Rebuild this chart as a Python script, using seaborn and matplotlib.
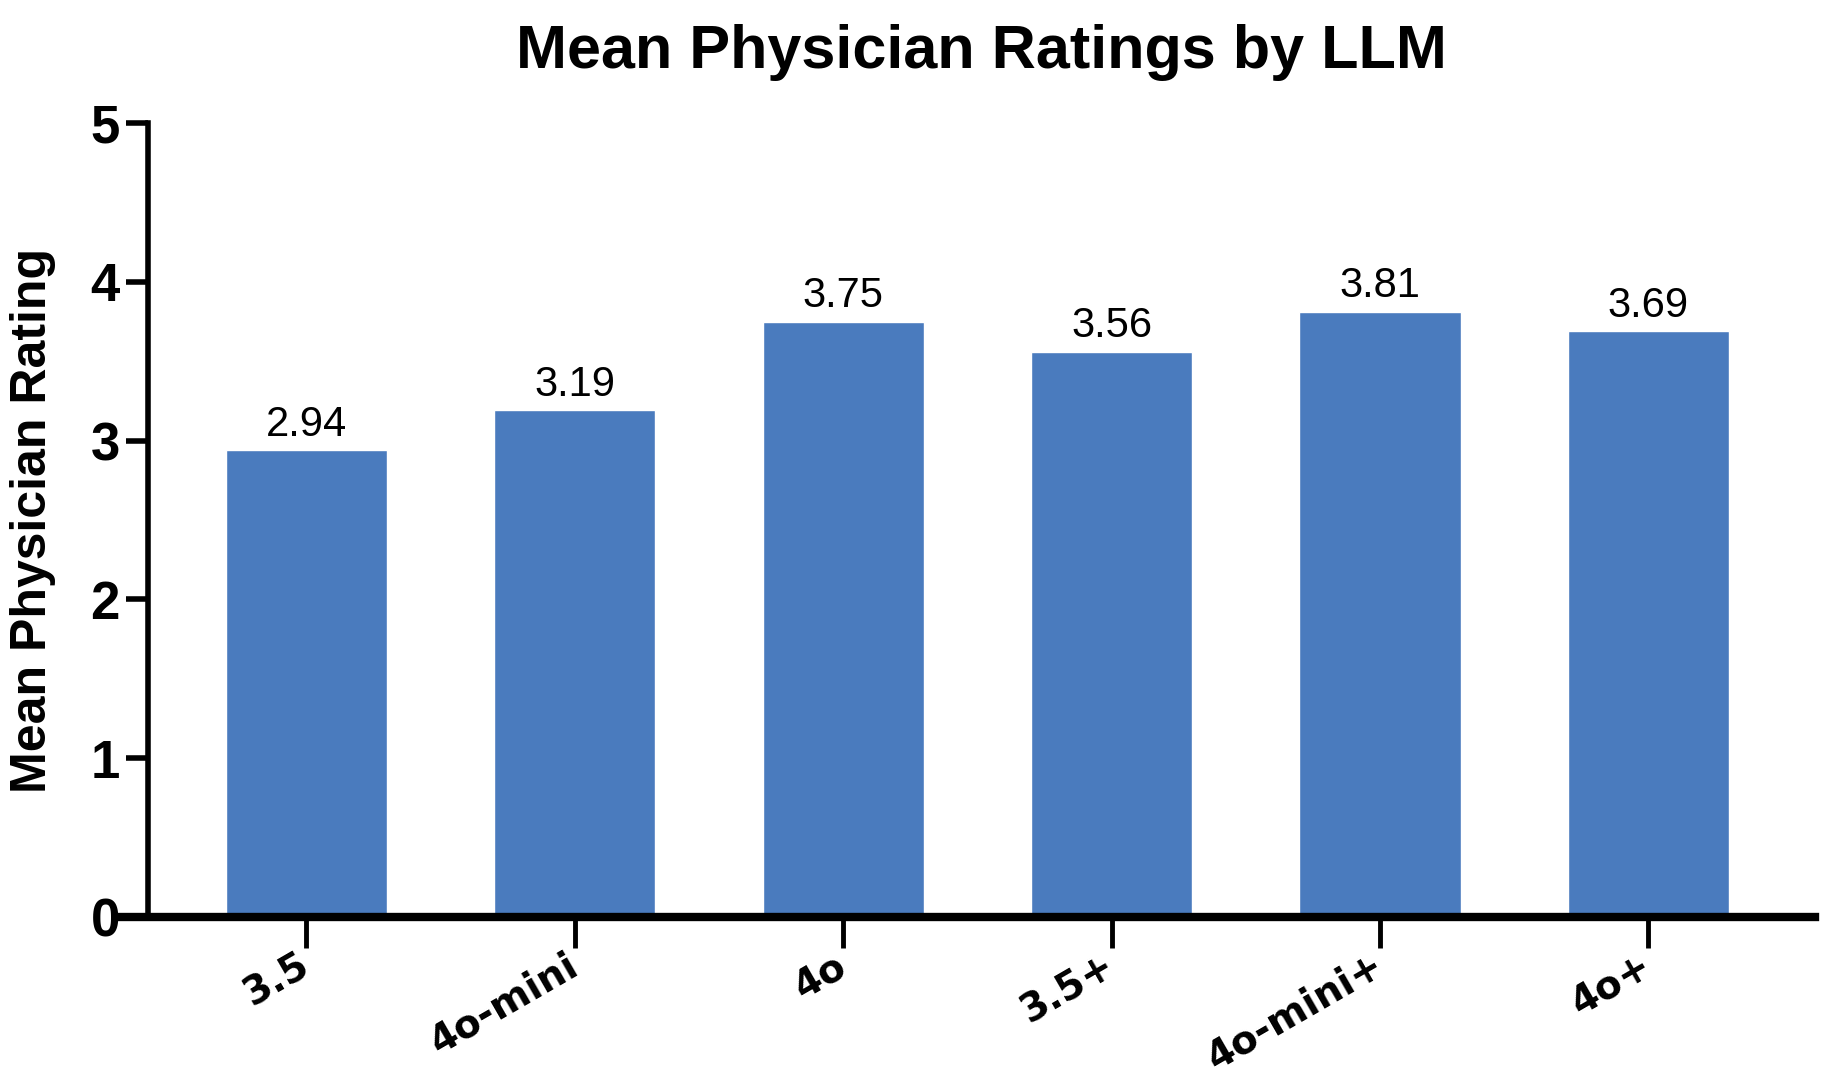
import matplotlib
matplotlib.use("Agg")
import matplotlib.pyplot as plt
import seaborn as sns
import pandas as pd

models = ["3.5", "4o-mini", "4o", "3.5+", "4o-mini+", "4o+"]
ratings = [2.94, 3.19, 3.75, 3.56, 3.81, 3.69]
yticks = [0, 1, 2, 3, 4, 5]

sns.set_theme(style="white")
plt.rcParams['font.family'] = ['Liberation Sans', 'DejaVu Sans']
plt.rcParams.update({"text.color": "black", "axes.labelcolor": "black",
                     "xtick.color": "black", "ytick.color": "black"})

df = pd.DataFrame({"model": models, "rating": ratings})

fig = plt.figure(figsize=(18.24, 10.8), dpi=100)
ax = fig.add_axes([0.081, 0.151, 0.914, 0.735])
sns.barplot(data=df, x="model", y="rating", color="#4A7BBE", saturation=1,
            width=0.6, ax=ax, errorbar=None)

ax.set_ylim(0, 5)
ax.set_xlim(-0.59, 5.62)
ax.set_yticks(yticks)
ax.set_yticklabels([str(t) for t in yticks], fontsize=38, fontweight="bold")
ax.set_xticks(range(len(models)))
ax.set_xticklabels(models, fontsize=28, fontweight="bold", rotation=30,
                   ha="right", va="center", rotation_mode="anchor",
                   family=["DejaVu Sans"])

for i, v in enumerate(ratings):
    ax.text(i, v + 0.035, f"{v:.2f}", ha="center", va="bottom", fontsize=30)

ax.set_xlabel("")
ax.set_ylabel("Mean Physician Rating", fontsize=36, fontweight="bold")
ax.yaxis.set_label_coords(-0.055, 0.5)
ax.set_title("Mean Physician Ratings by LLM", fontsize=44, fontweight="bold", pad=40)

for s in ["top", "right"]:
    ax.spines[s].set_visible(False)
ax.spines["left"].set_linewidth(4)
ax.spines["bottom"].set_linewidth(6)
ax.spines["left"].set_color("black")
ax.spines["bottom"].set_color("black")
ax.spines["bottom"].set_bounds(-0.69, 5.62)

ax.tick_params(axis="y", direction="out", length=16, width=4, color="black", pad=4, left=True)
ax.tick_params(axis="x", direction="out", length=22, width=3.5, color="black", pad=11, bottom=True)

fig.savefig("out.png", dpi=100, facecolor="white")
